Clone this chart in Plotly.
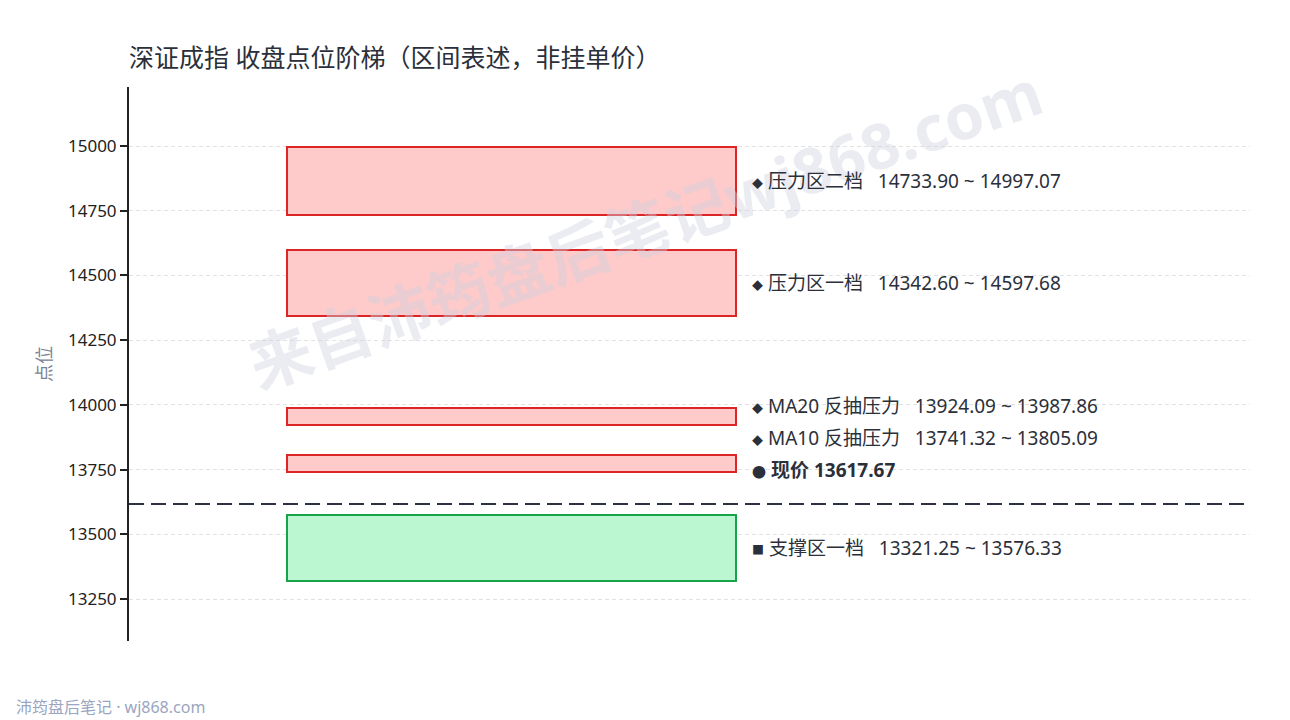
import plotly.graph_objects as go

# ---- data ----
zone_names = ["压力区二档", "压力区一档", "MA20 反抽压力", "MA10 反抽压力", "支撑区一档"]
zone_low = [14733.90, 14342.60, 13924.09, 13741.32, 13321.25]
zone_high = [14997.07, 14597.68, 13987.86, 13805.09, 13576.33]
zone_kind = ["res", "res", "res", "res", "sup"]
zone_marker = ["◆", "◆", "◆", "◆", "■"]
label_shift_px = [0, 0, 10, 26, 0]
current_price = 13617.67
current_shift_px = 34
y_ticks = [13250, 13500, 13750, 14000, 14250, 14500, 14750, 15000]
y_tick_labels = [str(v) for v in y_ticks]

FONT = "Noto Sans, Noto Sans CJK SC, sans-serif"
colors = {"res": ("#fecaca", "#dc2626"), "sup": ("#bbf7d0", "#16a34a")}

# page body has an 8px default margin; compensate
OFF = 8
W, H = 1290 - OFF, 720 - OFF
ml, mr, mt, mb = 129 - OFF, 40, 87 - OFF, 79
pw, ph = W - ml - mr, H - mt - mb


def px_x(x):
    return (x - OFF - ml) / pw


def px_y(y):
    return (H - mb - (y - OFF)) / ph


fig = go.Figure()
for name, lo, hi, kind in zip(zone_names, zone_low, zone_high, zone_kind):
    fill, line = colors[kind]
    fig.add_trace(go.Bar(
        x=[0.341], y=[hi - lo], base=[lo], width=[0.401],
        marker=dict(color=fill, line=dict(color=line, width=2)),
        name=name, showlegend=False, hoverinfo="skip",
    ))

# current price line
fig.add_trace(go.Scatter(
    x=[0, 1], y=[current_price, current_price], mode="lines",
    line=dict(color="#2b3140", width=2, dash="15px,7px"),
    showlegend=False, hoverinfo="skip",
))

annotations = []
# watermark
annotations.append(dict(
    x=px_x(645), y=px_y(228), xref="paper", yref="paper", showarrow=False,
    xanchor="center", yanchor="middle",
    text="<b>来自沛筠盘后笔记wj868.com</b>", textangle=-19.5,
    font=dict(family=FONT, size=63, color="rgba(205,210,222,0.42)"),
))
for name, lo, hi, mk, sh in zip(zone_names, zone_low, zone_high, zone_marker, label_shift_px):
    mid = (lo + hi) / 2
    msize = 11 if mk == "◆" else 12
    annotations.append(dict(
        x=0.554, y=mid, xref="x", yref="y", xanchor="left", yanchor="middle",
        yshift=sh, showarrow=False,
        text=f"<span style='font-size:{msize}px'>{mk}</span> {name}   {lo:.2f} ~ {hi:.2f}",
        font=dict(family=FONT, size=19, color="#2b2f3a"),
    ))
annotations.append(dict(
    x=0.554, y=current_price, xref="x", yref="y", xanchor="left", yanchor="middle",
    yshift=current_shift_px, showarrow=False,
    text=f"<span style='font-size:14px'>●</span> <b>现价 {current_price:.2f}</b>",
    font=dict(family=FONT, size=19, color="#2b2f3a"),
))
# footer
annotations.append(dict(
    x=px_x(14), y=px_y(707), xref="paper", yref="paper", showarrow=False,
    text="沛筠盘后笔记 · wj868.com", xanchor="left", yanchor="middle",
    font=dict(family=FONT, size=16, color="#9aa6bf"),
))

fig.update_layout(
    width=W, height=H,
    margin=dict(l=ml, r=mr, t=mt, b=mb),
    paper_bgcolor="white", plot_bgcolor="white",
    title=dict(text="深证成指 收盘点位阶梯（区间表述，非挂单价）", x=(129 - OFF) / W, xanchor="left",
               y=1 - (58 - OFF) / H, yanchor="middle",
               font=dict(family=FONT, size=25, color="#2b2f3a")),
    xaxis=dict(range=[0, 1], visible=False, fixedrange=True),
    yaxis=dict(range=[13088, 15228], tickvals=y_ticks, ticktext=y_tick_labels,
               ticks="outside", ticklen=7,
               tickwidth=2, tickcolor="#222", showline=True, linecolor="#222", linewidth=2,
               showgrid=True, gridcolor="#e2e2e2", griddash="4px,3px", gridwidth=1,
               zeroline=False,
               tickfont=dict(family=FONT, size=17, color="#222"),
               title=dict(text="点位", font=dict(family=FONT, size=18, color="#7a8394"), standoff=12)),
    annotations=annotations,
    bargap=0, barmode="overlay",
    font=dict(family=FONT),
)

fig.write_html("out.html")
